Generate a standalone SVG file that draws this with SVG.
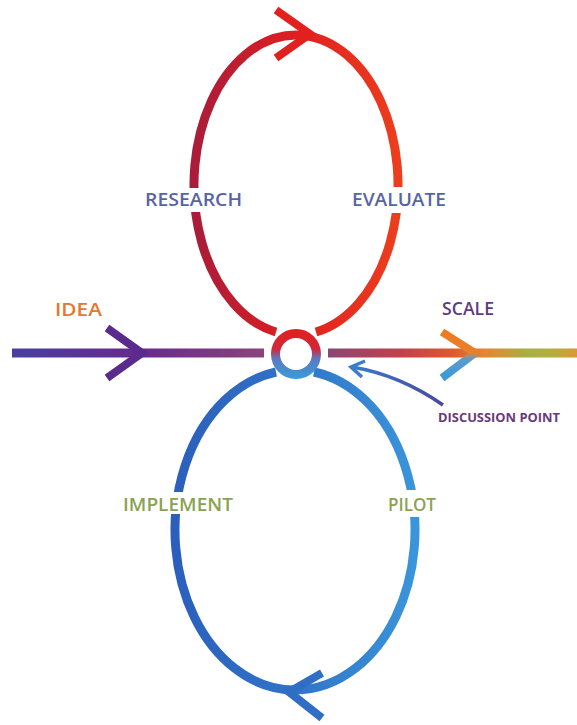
<svg xmlns="http://www.w3.org/2000/svg" width="577" height="725" viewBox="0 0 577 725">
  <defs>
    <linearGradient id="gLineL" gradientUnits="userSpaceOnUse" x1="12" y1="0" x2="264" y2="0">
      <stop offset="0" stop-color="#47409e"/>
      <stop offset="0.5" stop-color="#672a8c"/>
      <stop offset="1" stop-color="#8a437e"/>
    </linearGradient>
    <linearGradient id="gLineR" gradientUnits="userSpaceOnUse" x1="328" y1="0" x2="577" y2="0">
      <stop offset="0" stop-color="#8a4676"/>
      <stop offset="0.3" stop-color="#c5404a"/>
      <stop offset="0.5" stop-color="#e0582e"/>
      <stop offset="0.62" stop-color="#e8842c"/>
      <stop offset="0.8" stop-color="#a8b044"/>
      <stop offset="0.9" stop-color="#b4ae3e"/>
      <stop offset="1" stop-color="#d89a30"/>
    </linearGradient>
    <linearGradient id="gTop" gradientUnits="userSpaceOnUse" x1="194" y1="0" x2="398" y2="0">
      <stop offset="0" stop-color="#a91c3a"/>
      <stop offset="0.5" stop-color="#e01f20"/>
      <stop offset="1" stop-color="#ec3e1e"/>
    </linearGradient>
    <linearGradient id="gBottom" gradientUnits="userSpaceOnUse" x1="175" y1="0" x2="415" y2="0">
      <stop offset="0" stop-color="#2b5fbb"/>
      <stop offset="0.5" stop-color="#3174c8"/>
      <stop offset="1" stop-color="#3a95da"/>
    </linearGradient>
    <linearGradient id="gRing" gradientUnits="userSpaceOnUse" x1="0" y1="330" x2="0" y2="378">
      <stop offset="0" stop-color="#e0201e"/>
      <stop offset="0.4" stop-color="#d0283a"/>
      <stop offset="0.6" stop-color="#5a7ac4"/>
      <stop offset="1" stop-color="#3a9ad8"/>
    </linearGradient>
    <linearGradient id="gChevR" gradientUnits="userSpaceOnUse" x1="0" y1="332" x2="0" y2="378">
      <stop offset="0" stop-color="#ee7a22"/>
      <stop offset="0.45" stop-color="#e8802c"/>
      <stop offset="0.6" stop-color="#5a9ccc"/>
      <stop offset="1" stop-color="#3a9ad8"/>
    </linearGradient>
    <linearGradient id="gDisc" gradientUnits="userSpaceOnUse" x1="350" y1="0" x2="443" y2="0">
      <stop offset="0" stop-color="#3a7ccc"/>
      <stop offset="1" stop-color="#4a48a0"/>
    </linearGradient>
  </defs>
  <style>
    .loop { fill: none; stroke-width: 9; }
    .chev { fill: none; stroke-width: 8; stroke-linejoin: miter; stroke-miterlimit: 10; }
    .axis { stroke-width: 9; }
    .lbl { font-family: "Open Sans", "Liberation Sans", sans-serif; font-weight: 600; font-size: 18px; }
    .knock { fill: #ffffff; }
  </style>

  <rect x="0" y="0" width="577" height="725" fill="#ffffff"/>

  <g id="connectors">
    <!-- main axis: idea to scale -->
    <line class="axis" x1="12" y1="353" x2="264" y2="353" stroke="url(#gLineL)"/>
    <line class="axis" x1="328" y1="353" x2="577" y2="353" stroke="url(#gLineR)"/>
    <polyline class="chev" points="107,328 142,353 107,378" stroke="#5a2a8c"/>
    <polyline class="chev" points="442,332 475,353 442,378" stroke="url(#gChevR)"/>

    <!-- upper loop: research / evaluate -->
    <path class="loop" d="M 276 332 A 102 150 0 1 1 316 332" stroke="url(#gTop)"/>
    <polyline class="chev" points="276,10 310,34 276,58" stroke="#e2211f"/>

    <!-- lower loop: pilot / implement -->
    <path class="loop" d="M 314 372 A 120 160 0 1 1 276 372" stroke="url(#gBottom)"/>
    <polyline class="chev" points="322,673 289,692 322,718" stroke="#2f6ec4"/>

    <!-- pointer to the discussion point -->
    <path d="M 443 405 Q 400 375 352 367" fill="none" stroke="url(#gDisc)" stroke-width="3.5"/>
    <polyline points="365,361 351,367 362,377" fill="none" stroke="#3a7ccc" stroke-width="3.5"/>
  </g>

  <g id="discussion-point">
    <circle cx="296" cy="354" r="20.5" fill="none" stroke="url(#gRing)" stroke-width="9"/>
    <text x="438" y="422" font-family="'Open Sans', 'Liberation Sans', sans-serif" font-weight="700" font-size="12.5" fill="#6a3a7a" textLength="122" lengthAdjust="spacingAndGlyphs">DISCUSSION POINT</text>
  </g>

  <g id="idea">
    <text class="lbl" x="55" y="316" fill="#e4782e" textLength="47" lengthAdjust="spacingAndGlyphs">IDEA</text>
  </g>

  <g id="scale">
    <text class="lbl" x="442" y="315" fill="#5e3a86" textLength="52" lengthAdjust="spacingAndGlyphs">SCALE</text>
  </g>

  <g id="research">
    <rect class="knock" x="186" y="188" width="18" height="24"/>
    <text class="lbl" x="145" y="206" fill="#5664a6" textLength="97" lengthAdjust="spacingAndGlyphs">RESEARCH</text>
  </g>

  <g id="evaluate">
    <rect class="knock" x="389" y="187" width="18" height="26"/>
    <text class="lbl" x="352" y="206" fill="#5664a6" textLength="94" lengthAdjust="spacingAndGlyphs">EVALUATE</text>
  </g>

  <g id="implement">
    <rect class="knock" x="166" y="492" width="18" height="22"/>
    <text class="lbl" x="123" y="511" fill="#8aa352" textLength="110" lengthAdjust="spacingAndGlyphs">IMPLEMENT</text>
  </g>

  <g id="pilot">
    <rect class="knock" x="406" y="490" width="18" height="27"/>
    <text class="lbl" x="388" y="511" fill="#8aa352" textLength="48" lengthAdjust="spacingAndGlyphs">PILOT</text>
  </g>
</svg>
